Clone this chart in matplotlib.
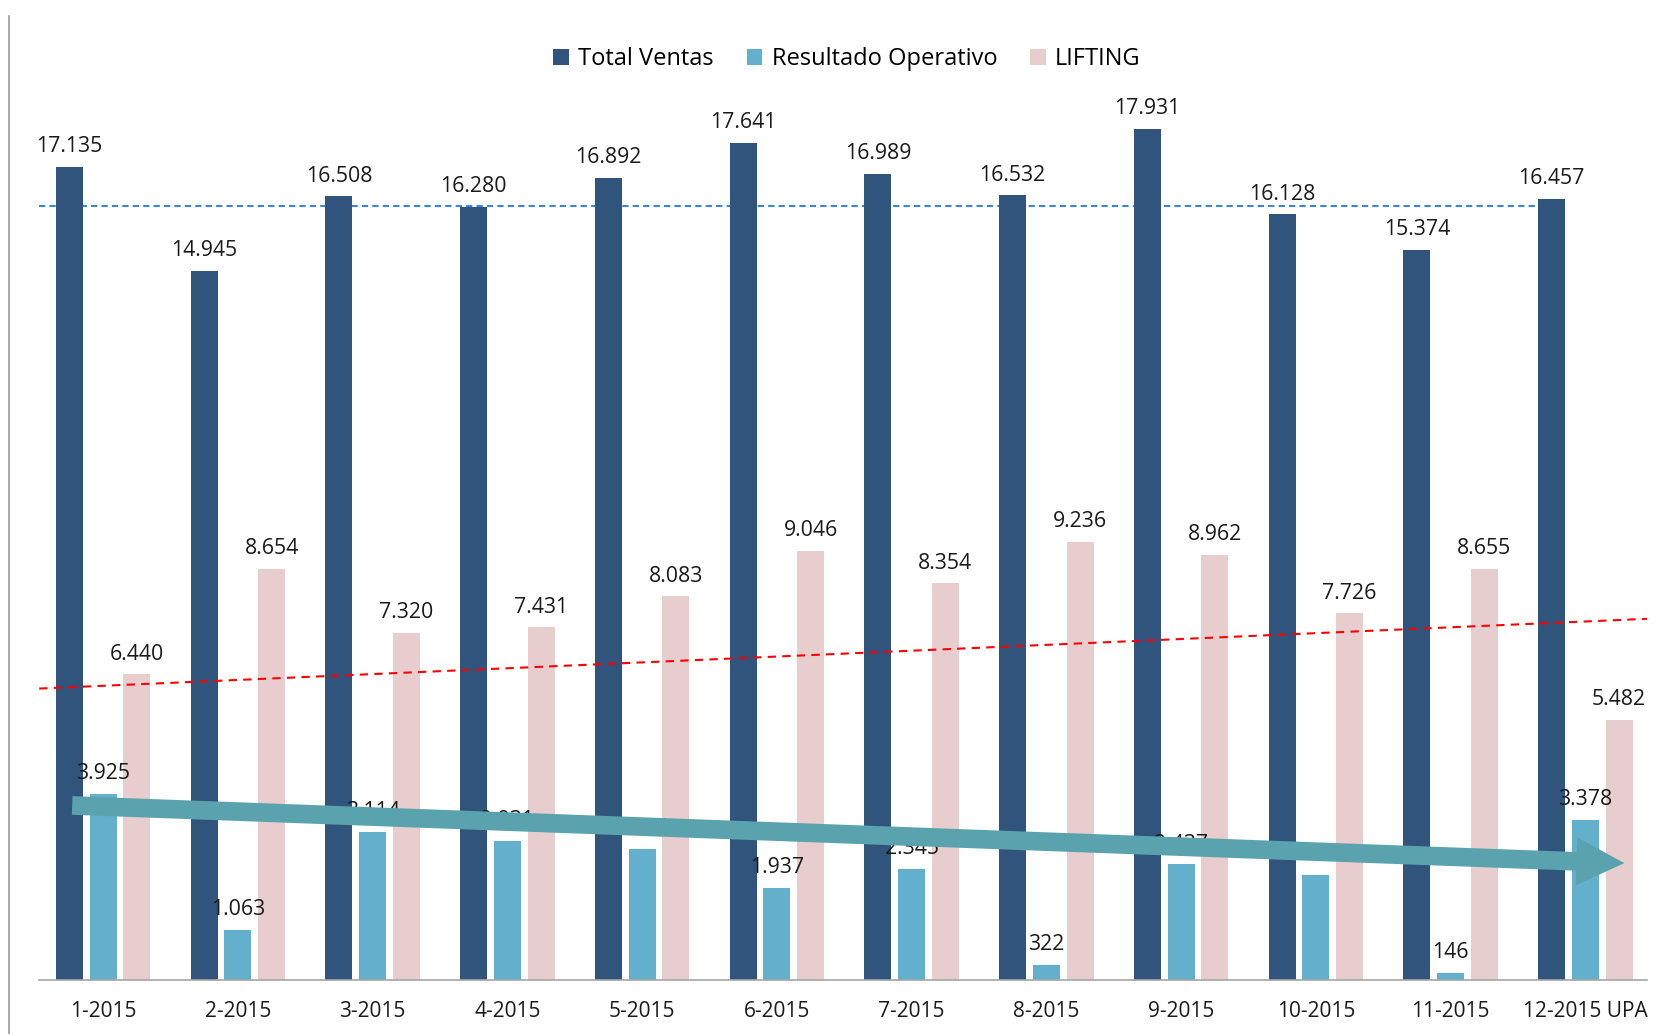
import matplotlib
matplotlib.use("Agg")
import matplotlib.pyplot as plt
from matplotlib.patches import FancyArrowPatch
from matplotlib.lines import Line2D
import numpy as np

categories = ["1-2015", "2-2015", "3-2015", "4-2015", "5-2015", "6-2015",
              "7-2015", "8-2015", "9-2015", "10-2015", "11-2015", "12-2015 UPA"]
total_ventas = [17135, 14945, 16508, 16280, 16892, 17641, 16989, 16532, 17931, 16128, 15374, 16457]
resultado_operativo = [3925, 1063, 3114, 2931, 2760, 1937, 2345, 322, 2437, 2214, 146, 3378]
lifting = [6440, 8654, 7320, 7431, 8083, 9046, 8354, 9236, 8962, 7726, 8655, 5482]
series_names = ["Total Ventas", "Resultado Operativo", "LIFTING"]

blue_ref_level = 16300
red_trend = (6140, 7610)        # start / end values of red dashed line
arrow_trend = (3680, 2460)      # start / end values of teal arrow

plt.rcParams['font.family'] = ['Open Sans', 'DejaVu Sans']

fig = plt.figure(figsize=(16.61, 10.34), dpi=100)
ax = fig.add_axes([0.0236, 0.0522, 0.9682, 0.8608])

x = np.arange(len(categories))
w = 0.2
off = 0.25
colors = ["#30547C", "#62B0CB", "#E8CDCE"]
data = [total_ventas, resultado_operativo, lifting]

def fmt(v):
    return f"{v:,}".replace(",", ".")

for i, (vals, c, name) in enumerate(zip(data, colors, series_names)):
    xs = x + (i - 1) * off
    ax.bar(xs, vals, width=w, color=c, label=name, zorder=2)
    for xi, v in zip(xs, vals):
        ax.annotate(fmt(v), (xi, v), xytext=(0, 7), textcoords="offset points",
                    ha="center", va="bottom", fontsize=15.3, color="#1a1a1a", zorder=3)

xl = (-0.474, 11.46)
ax.set_xlim(*xl)
ax.set_ylim(0, 18750)

# blue dashed reference line
ax.plot([xl[0], 10.72], [blue_ref_level, blue_ref_level], ls=(0, (3, 2)),
        color="#3B85D6", lw=1.5, zorder=1)
# red dashed trend line
ax.plot([xl[0], xl[1]], list(red_trend), ls=(0, (4, 3)), color="#FF0000", lw=1.5, zorder=2.5)

# teal arrow
arr = FancyArrowPatch((-0.25, arrow_trend[0]), (11.31, arrow_trend[1]),
                      arrowstyle="simple,head_length=2.7,head_width=2.7,tail_width=1.05",
                      mutation_scale=12.8, color="#5AA3AE", zorder=4, lw=0)
ax.add_patch(arr)

ax.set_xticks(x)
ax.set_xticklabels(categories, fontsize=15, color="#1a1a1a")
ax.tick_params(axis="x", length=0, pad=15)
ax.set_yticks([])
for s in ["top", "right", "left"]:
    ax.spines[s].set_visible(False)
ax.spines["bottom"].set_color("#A6A6A6")
ax.spines["bottom"].set_linewidth(1.2)

fig.legend(loc="center", bbox_to_anchor=(0.51, 0.943), ncol=3, frameon=False,
           fontsize=17, handlelength=0.65, handleheight=0.65, columnspacing=1.4,
           handletextpad=0.4)

fig.add_artist(Line2D([0.0054, 0.0054], [0, 0.985], color="#9A9A9A", lw=1.2,
                      transform=fig.transFigure))

fig.savefig("out.png", dpi=100)
